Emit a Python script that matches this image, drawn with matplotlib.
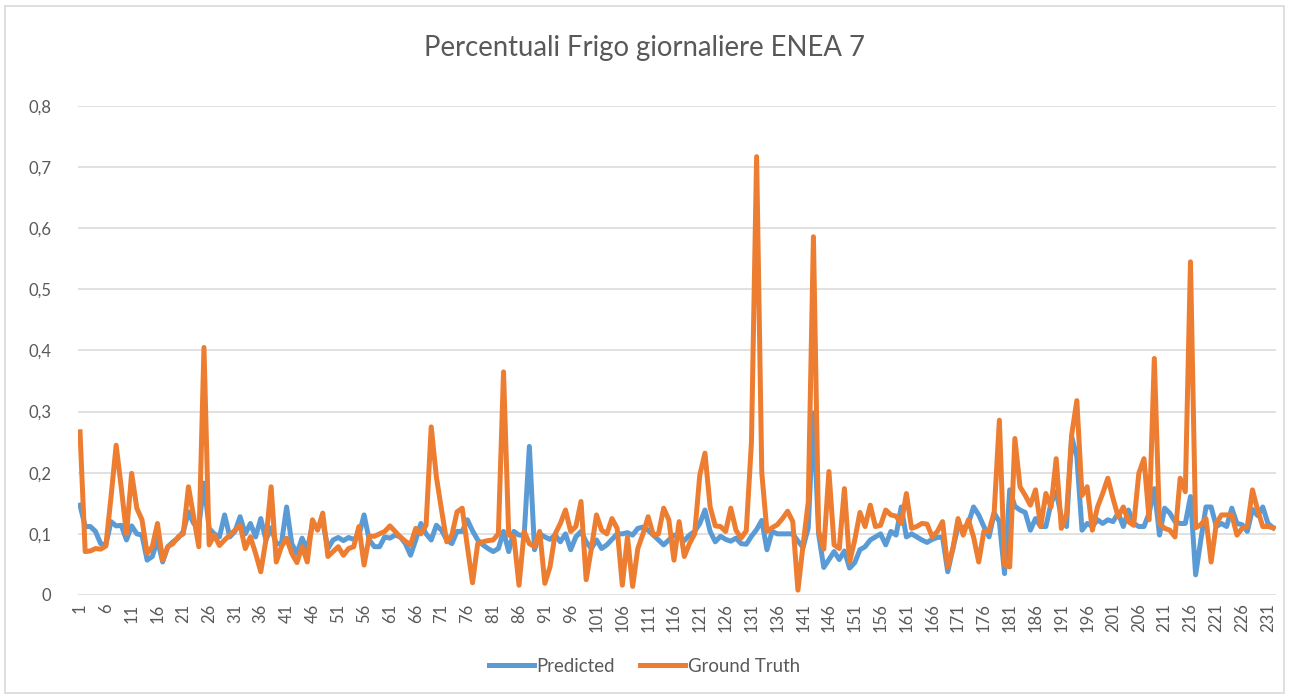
import matplotlib
matplotlib.use("Agg")
import matplotlib.pyplot as plt
from matplotlib.patches import Rectangle
from matplotlib.ticker import FuncFormatter

plt.rcParams["font.family"] = ["Lato", "DejaVu Sans"]

TITLE = "Percentuali Frigo giornaliere ENEA 7"
SERIES_NAMES = ["Predicted", "Ground Truth"]

# values, one per day (1..232)
predicted = [
    0.147, 0.112, 0.112, 0.104, 0.084, 0.082, 0.120, 0.113, 0.114, 0.090,
    0.113, 0.100, 0.098, 0.057, 0.063, 0.090, 0.054, 0.079, 0.087, 0.093,
    0.104, 0.136, 0.117, 0.112, 0.183, 0.109, 0.100, 0.095, 0.131, 0.095,
    0.104, 0.128, 0.100, 0.117, 0.095, 0.125, 0.090, 0.110, 0.084, 0.084,
    0.144, 0.084, 0.068, 0.093, 0.074, 0.115, 0.110, 0.120, 0.076, 0.090,
    0.094, 0.089, 0.094, 0.091, 0.098, 0.131, 0.090, 0.079, 0.079, 0.095,
    0.093, 0.098, 0.095, 0.084, 0.065, 0.090, 0.117, 0.100, 0.090, 0.114,
    0.106, 0.090, 0.084, 0.104, 0.104, 0.123, 0.105, 0.090, 0.082, 0.076,
    0.071, 0.076, 0.104, 0.071, 0.104, 0.098, 0.098, 0.243, 0.074, 0.100,
    0.095, 0.091, 0.098, 0.087, 0.100, 0.074, 0.095, 0.104, 0.087, 0.076,
    0.090, 0.076, 0.082, 0.091, 0.100, 0.100, 0.102, 0.098, 0.109, 0.111,
    0.106, 0.098, 0.090, 0.082, 0.090, 0.098, 0.095, 0.089, 0.098, 0.104,
    0.117, 0.139, 0.104, 0.087, 0.096, 0.091, 0.088, 0.093, 0.084, 0.083,
    0.096, 0.107, 0.122, 0.074, 0.104, 0.100, 0.100, 0.100, 0.100, 0.088,
    0.078, 0.110, 0.298, 0.100, 0.045, 0.058, 0.071, 0.058, 0.072, 0.044,
    0.053, 0.074, 0.079, 0.090, 0.095, 0.100, 0.082, 0.104, 0.098, 0.144,
    0.095, 0.100, 0.095, 0.090, 0.086, 0.091, 0.094, 0.095, 0.038, 0.076,
    0.112, 0.109, 0.117, 0.144, 0.131, 0.112, 0.095, 0.134, 0.120, 0.035,
    0.172, 0.145, 0.139, 0.135, 0.106, 0.125, 0.112, 0.112, 0.150, 0.169,
    0.128, 0.112, 0.259, 0.226, 0.106, 0.117, 0.112, 0.123, 0.117, 0.123,
    0.120, 0.134, 0.112, 0.139, 0.117, 0.112, 0.112, 0.134, 0.174, 0.098,
    0.142, 0.134, 0.120, 0.117, 0.117, 0.161, 0.033, 0.090, 0.144, 0.144,
    0.112, 0.117, 0.112, 0.142, 0.117, 0.115, 0.104, 0.140, 0.130, 0.144,
    0.117, 0.110,
]

ground_truth = [
    0.267, 0.071, 0.072, 0.076, 0.075, 0.080, 0.160, 0.245, 0.175, 0.100,
    0.199, 0.142, 0.123, 0.068, 0.079, 0.117, 0.057, 0.079, 0.084, 0.095,
    0.100, 0.177, 0.128, 0.079, 0.405, 0.082, 0.098, 0.081, 0.090, 0.098,
    0.106, 0.114, 0.076, 0.095, 0.068, 0.038, 0.090, 0.177, 0.054, 0.079,
    0.093, 0.068, 0.053, 0.079, 0.054, 0.123, 0.106, 0.134, 0.063, 0.071,
    0.079, 0.065, 0.076, 0.079, 0.112, 0.049, 0.096, 0.096, 0.100, 0.104,
    0.113, 0.104, 0.095, 0.088, 0.082, 0.109, 0.100, 0.114, 0.275, 0.193,
    0.139, 0.087, 0.098, 0.136, 0.142, 0.079, 0.020, 0.084, 0.087, 0.089,
    0.090, 0.100, 0.365, 0.098, 0.095, 0.016, 0.104, 0.084, 0.079, 0.104,
    0.019, 0.046, 0.100, 0.117, 0.139, 0.104, 0.112, 0.153, 0.025, 0.076,
    0.131, 0.106, 0.100, 0.125, 0.109, 0.016, 0.095, 0.014, 0.076, 0.100,
    0.128, 0.098, 0.100, 0.142, 0.123, 0.057, 0.120, 0.063, 0.084, 0.100,
    0.196, 0.232, 0.144, 0.113, 0.112, 0.104, 0.142, 0.106, 0.093, 0.105,
    0.250, 0.717, 0.200, 0.104, 0.110, 0.115, 0.125, 0.137, 0.120, 0.008,
    0.082, 0.152, 0.586, 0.105, 0.075, 0.202, 0.082, 0.076, 0.174, 0.054,
    0.090, 0.135, 0.112, 0.147, 0.112, 0.114, 0.139, 0.131, 0.129, 0.117,
    0.166, 0.109, 0.112, 0.117, 0.116, 0.095, 0.104, 0.120, 0.046, 0.076,
    0.125, 0.098, 0.123, 0.095, 0.054, 0.104, 0.105, 0.136, 0.286, 0.049,
    0.046, 0.256, 0.177, 0.163, 0.147, 0.172, 0.112, 0.166, 0.144, 0.223,
    0.109, 0.131, 0.262, 0.318, 0.163, 0.177, 0.106, 0.144, 0.166, 0.191,
    0.158, 0.128, 0.144, 0.120, 0.114, 0.199, 0.223, 0.123, 0.387, 0.117,
    0.109, 0.106, 0.095, 0.191, 0.169, 0.545, 0.110, 0.115, 0.125, 0.054,
    0.117, 0.131, 0.131, 0.131, 0.098, 0.109, 0.112, 0.172, 0.139, 0.112,
    0.112, 0.110,
]

days = list(range(1, len(ground_truth) + 1))
tick_days = list(range(1, len(days) + 1, 5))
y_ticks = [0.0, 0.1, 0.2, 0.3, 0.4, 0.5, 0.6, 0.7, 0.8]

TEXT = "#595959"
GRID = "#d9d9d9"

fig = plt.figure(figsize=(12.89, 6.99), dpi=100)
fig.patches.append(Rectangle((0.004, 0.008), 0.992, 0.984, transform=fig.transFigure,
                             fill=False, edgecolor=GRID, linewidth=1.2))

ax = fig.add_axes([0.0605, 0.1488, 0.9295, 0.6996])
ax.plot(days, predicted, color="#5B9BD5", linewidth=3.6, label=SERIES_NAMES[0],
        solid_joinstyle="round", zorder=3)
ax.plot(days, ground_truth, color="#ED7D31", linewidth=3.6, label=SERIES_NAMES[1],
        solid_joinstyle="round", zorder=4)

ax.set_xlim(0.61, len(days) + 0.58)
ax.set_ylim(0, 0.8)
ax.set_yticks(y_ticks)
ax.yaxis.set_major_formatter(FuncFormatter(lambda v, _: f"{v:.1f}".replace(".", ",") if v else "0"))
ax.set_xticks(tick_days)
ax.set_xticklabels([str(d) for d in tick_days], rotation=90)
ax.tick_params(axis="both", length=0, colors=TEXT, labelsize=12)
ax.tick_params(axis="y", pad=19)
ax.tick_params(axis="x", pad=6)
ax.grid(axis="y", color=GRID, linewidth=1.1)
ax.set_axisbelow(True)
for s in ax.spines.values():
    s.set_visible(False)

fig.text(0.5, 0.931, TITLE, ha="center", va="center", fontsize=19.8, color=TEXT)
fig.legend(loc="center", bbox_to_anchor=(0.5, 0.047), ncol=2, frameon=False,
           fontsize=13.4, labelcolor=TEXT, handlelength=2.4, handletextpad=0.15,
           columnspacing=1.35)

fig.savefig("out.png", dpi=100)
